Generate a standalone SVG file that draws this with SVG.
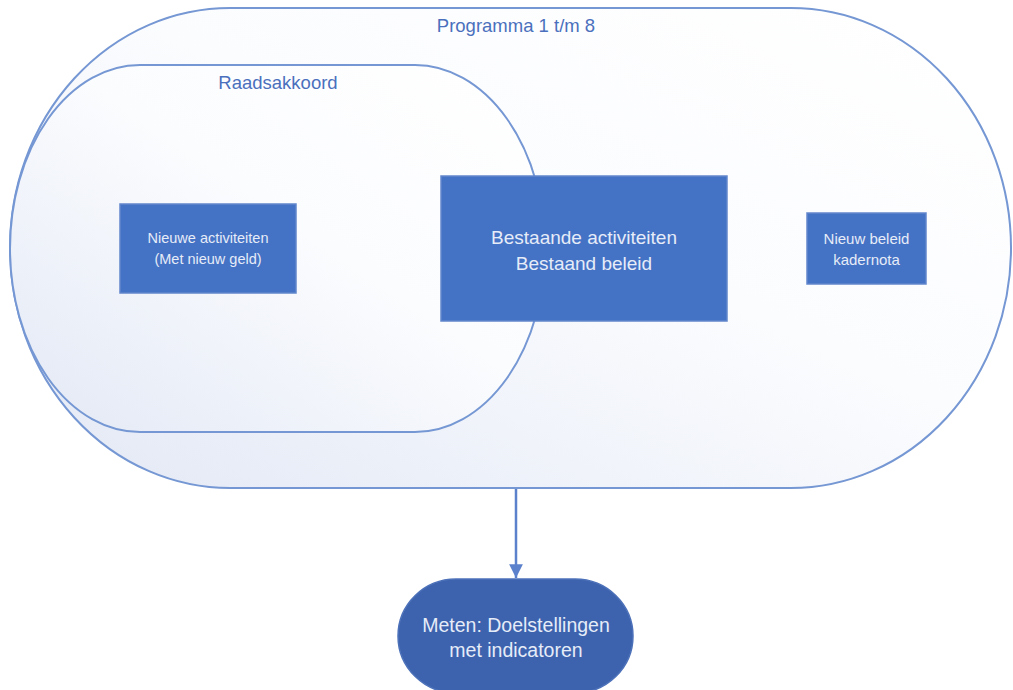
<svg xmlns="http://www.w3.org/2000/svg" width="1013" height="690" viewBox="0 0 1013 690">
<style>
.region{stroke:#7597d3;stroke-width:2;}
.lbl{font-family:"Liberation Sans",Arial,sans-serif;fill:#4a70bd;text-anchor:middle;}
.box{fill:#4472c4;stroke:#6187cc;stroke-width:1.5;}
.btxt{font-family:"Liberation Sans",Arial,sans-serif;fill:#e6ecf8;text-anchor:middle;}
.conn{stroke:#5b80cc;stroke-width:2.5;fill:none;}
</style>
<defs>
<linearGradient id="g" x1="0" y1="1" x2="1" y2="0">
<stop offset="0" stop-color="#e2e8f5"/>
<stop offset="0.55" stop-color="#fbfcfe"/>
<stop offset="1" stop-color="#ffffff"/>
</linearGradient>
<marker id="ah" viewBox="0 0 10 10" refX="10" refY="5" markerWidth="5.5" markerHeight="5.5" orient="auto" markerUnits="strokeWidth">
<path d="M0,0 L10,5 L0,10 z" fill="#5b80cc"/>
</marker>
</defs>
<rect width="1013" height="690" fill="#ffffff"/>
<g id="programma">
<rect class="region" x="10" y="8" width="1001" height="480" rx="220" ry="240" fill="url(#g)"/>
<text class="lbl" x="516" y="32" font-size="18.5">Programma 1 t/m 8</text>
</g>
<g id="raadsakkoord">
<rect class="region" x="10" y="65" width="535" height="367" rx="130" ry="183.5" fill="url(#g)"/>
<text class="lbl" x="278" y="89" font-size="18.5">Raadsakkoord</text>
</g>
<g id="nieuwe-activiteiten">
<rect class="box" x="120" y="204" width="176" height="89"/>
<text class="btxt" x="208" y="243" font-size="14.5">Nieuwe activiteiten</text>
<text class="btxt" x="208" y="264" font-size="14.5">(Met nieuw geld)</text>
</g>
<g id="bestaande-activiteiten">
<rect class="box" x="441" y="176" width="286" height="145"/>
<text class="btxt" x="584" y="244" font-size="19">Bestaande activiteiten</text>
<text class="btxt" x="584" y="270" font-size="19">Bestaand beleid</text>
</g>
<g id="nieuw-beleid">
<rect class="box" x="807" y="213" width="119" height="71"/>
<text class="btxt" x="866.5" y="244" font-size="15">Nieuw beleid</text>
<text class="btxt" x="866.5" y="265" font-size="15">kadernota</text>
</g>
<g id="connectors">
<line class="conn" x1="516" y1="489" x2="516" y2="578" marker-end="url(#ah)"/>
</g>
<g id="meten">
<rect x="398" y="579" width="235" height="114" rx="58" ry="57" fill="#3d63ae" stroke="#4c71b9" stroke-width="1.5"/>
<text class="btxt" x="516" y="632" font-size="19.5" fill="#dde5f4">Meten: Doelstellingen</text>
<text class="btxt" x="516" y="657" font-size="19.5" fill="#dde5f4">met indicatoren</text>
</g>
</svg>
